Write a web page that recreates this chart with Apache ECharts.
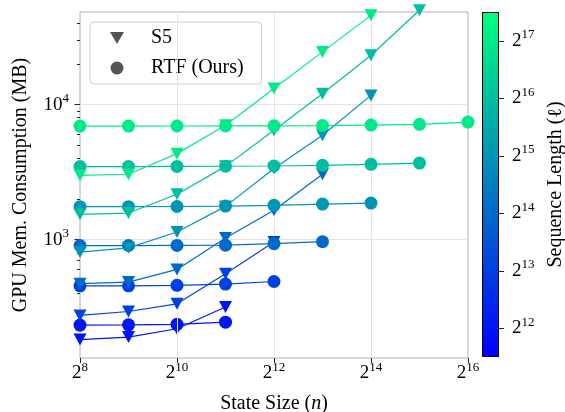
<!DOCTYPE html>
<html><head><meta charset="utf-8">
<script src="https://cdn.jsdelivr.net/npm/echarts@6/dist/echarts.min.js"></script>
<style>html,body{margin:0;padding:0;background:#fff}#c{width:565px;height:412px}</style>
</head><body><div id="c"></div>
<script>
// ---- data ----
const stateSizes = [256, 512, 1024, 2048, 4096, 8192, 16384, 32768, 65536];
const seqExponents = [12, 13, 14, 15, 16, 17];
const s5_len12 = [182, 190, 219, 317];
const s5_len13 = [275, 294, 335, 560, 960];
const s5_len14 = [472, 485, 602, 1030, 1650, 3050];
const s5_len15 = [809, 870, 1140, 1764, 3360, 5930, 11700];
const s5_len16 = [1540, 1575, 2167, 3490, 6450, 12050, 23180, 50000];
const s5_len17 = [2993, 3050, 4335, 7030, 13150, 24570, 45800];
const rtf_len12 = [233, 234, 236, 245];
const rtf_len13 = [455, 455, 459, 469, 490];
const rtf_len14 = [905, 905, 907, 910, 934, 966];
const rtf_len15 = [1755, 1755, 1760, 1774, 1795, 1836, 1866];
const rtf_len16 = [3475, 3480, 3485, 3495, 3510, 3550, 3612, 3690];
const rtf_len17 = [6935, 6940, 6945, 6950, 6965, 6990, 7060, 7150, 7430];
const xTickValues = [256, 1024, 4096, 16384, 65536];
const yTickValues = [1000, 10000];
const yMinorTickValues = [200, 300, 400, 500, 600, 700, 800, 900, 2000, 3000, 4000, 5000, 6000, 7000, 8000, 9000, 20000, 30000, 40000];
const yRange = [133, 48500];
const colorbarTicks = [12, 13, 14, 15, 16, 17];
const colorbarRange = [11.5, 17.5];

const s5Data = [s5_len12, s5_len13, s5_len14, s5_len15, s5_len16, s5_len17];
const rtfData = [rtf_len12, rtf_len13, rtf_len14, rtf_len15, rtf_len16, rtf_len17];

// ---- style ----
const FONT = 'Liberation Serif';
function winter(e) {
  const t = (e - colorbarRange[0]) / (colorbarRange[1] - colorbarRange[0]);
  return 'rgb(0,' + Math.round(255 * t) + ',' + Math.round(255 - 127.5 * t) + ')';
}
const supRich = {
  b: { fontFamily: FONT, fontSize: 19, color: '#000', verticalAlign: 'bottom', lineHeight: 19 },
  s: { fontFamily: FONT, fontSize: 13, color: '#000', verticalAlign: 'bottom', lineHeight: 13, padding: [0, 0, 9, 0] }
};
const toPairs = vals => vals.map((v, i) => [stateSizes[i], v]);

const series = [];
series.push({
  type: 'line', xAxisIndex: 0, yAxisIndex: 0, data: [], silent: true, z: 1,
  markLine: {
    silent: true, symbol: ['none', 'none'], label: { show: false }, animation: false,
    lineStyle: { color: '#e3e3e3', width: 1, type: 'solid' },
    emphasis: { disabled: true },
    data: xTickValues.slice(1, -1).map(v => ({ xAxis: v })).concat(yTickValues.map(v => ({ yAxis: v })))
  }
});
seqExponents.forEach((e, k) => {
  const c = winter(e);
  series.push({
    type: 'line', name: 'S5 2^' + e, xAxisIndex: 0, yAxisIndex: 0, clip: false,
    data: toPairs(s5Data[k]), symbol: 'triangle', symbolRotate: 180, symbolSize: [13, 12],
    itemStyle: { color: c }, lineStyle: { color: c, width: 1.2 }, z: 3 + 2 * k + 1
  });
  series.push({
    type: 'line', name: 'RTF 2^' + e, xAxisIndex: 0, yAxisIndex: 0, clip: false,
    data: toPairs(rtfData[k]), symbol: 'circle', symbolSize: 13,
    itemStyle: { color: c }, lineStyle: { color: c, width: 1.2 }, z: 3 + 2 * k
  });
});
series.push({ type: 'line', name: 'S5', data: [], itemStyle: { color: '#555' }, symbol: 'triangle' });
series.push({ type: 'line', name: 'RTF (Ours)', data: [], itemStyle: { color: '#555' }, symbol: 'circle' });
// colorbar
series.push({
  type: 'bar', xAxisIndex: 1, yAxisIndex: 2, stack: 'cb', barWidth: '100%', silent: true,
  data: [colorbarRange[0]], itemStyle: { color: 'rgba(0,0,0,0)' }
});
series.push({
  type: 'bar', xAxisIndex: 1, yAxisIndex: 2, stack: 'cb', barWidth: '100%', silent: true,
  data: [colorbarRange[1] - colorbarRange[0]],
  itemStyle: {
    color: new echarts.graphic.LinearGradient(0, 0, 0, 1, [
      { offset: 0, color: winter(colorbarRange[1]) }, { offset: 1, color: winter(colorbarRange[0]) }
    ]),
    borderColor: '#000', borderWidth: 1
  }
});

const chart = echarts.init(document.getElementById('c'), null, { renderer: 'canvas' });
chart.setOption({
  animation: false,
  backgroundColor: '#fff',
  grid: [
    { left: 80, right: 97, top: 12, bottom: 54, show: true, borderColor: '#b0b0b0', borderWidth: 1,
      backgroundColor: 'rgba(0,0,0,0)', containLabel: false, outerBoundsMode: 'none' },
    { left: 482, width: 17, top: 12, height: 345, containLabel: false, outerBoundsMode: 'none' }
  ],
  legend: {
    data: [{ name: 'S5', icon: 'path://M0,0L14,0L7,12Z' }, { name: 'RTF (Ours)', icon: 'circle' }],
    orient: 'vertical', left: 90, top: 22, itemWidth: 14, itemHeight: 13, itemGap: 10,
    padding: [6, 18, 6, 20], selectedMode: false,
    backgroundColor: 'rgba(255,255,255,0.85)', borderColor: '#cccccc', borderWidth: 1, borderRadius: 4,
    textStyle: { fontFamily: FONT, fontSize: 20, color: '#000', padding: [0, 0, 0, 22] }
  },
  xAxis: [
    {
      type: 'log', logBase: 2, gridIndex: 0, min: 256, max: 65536,
      axisLine: { show: false }, splitLine: { show: false }, minorTick: { show: false },
      axisTick: { show: true, inside: false, length: 5, customValues: xTickValues, lineStyle: { color: '#222' } },
      axisLabel: {
        customValues: xTickValues, margin: 6,
        formatter: v => '{b|2}{s|' + Math.round(Math.log2(v)) + '}', rich: supRich
      },
      name: 'State Size ({i|n})', nameLocation: 'middle', nameGap: 36,
      nameTextStyle: { fontFamily: FONT, fontSize: 20, color: '#000',
        rich: { i: { fontFamily: FONT, fontSize: 20, fontStyle: 'italic', color: '#000' } } }
    },
    { type: 'category', gridIndex: 1, data: ['cb'], show: false }
  ],
  yAxis: [
    {
      type: 'log', logBase: 10, gridIndex: 0, min: yRange[0], max: yRange[1], position: 'left',
      axisLine: { show: false }, splitLine: { show: false },
      axisTick: { show: true, inside: false, length: 5.5, customValues: yTickValues, lineStyle: { color: '#222' } },
      axisLabel: {
        customValues: yTickValues, margin: 11,
        formatter: v => '{b|10}{s|' + Math.round(Math.log10(v)) + '}', rich: supRich
      },
      name: 'GPU Mem. Consumption (MB)', nameLocation: 'middle', nameGap: 49,
      nameTextStyle: { fontFamily: FONT, fontSize: 20, color: '#000' }
    },
    {
      type: 'log', logBase: 10, gridIndex: 0, min: yRange[0], max: yRange[1], position: 'left', offset: 0,
      axisLine: { show: false }, splitLine: { show: false }, axisLabel: { show: false },
      axisTick: { show: true, inside: false, length: 3, customValues: yMinorTickValues, lineStyle: { color: '#222' } }
    },
    {
      type: 'value', gridIndex: 1, position: 'right', min: colorbarRange[0], max: colorbarRange[1],
      axisLine: { show: false }, splitLine: { show: false },
      axisTick: { show: true, inside: false, length: 5, customValues: colorbarTicks, lineStyle: { color: '#222' } },
      axisLabel: {
        customValues: colorbarTicks, margin: 13,
        formatter: v => '{b|2}{s|' + v + '}', rich: supRich
      },
      name: 'Sequence Length (ℓ)', nameLocation: 'middle', nameRotate: 90, nameGap: 47,
      nameTextStyle: { fontFamily: FONT, fontSize: 20, color: '#000' }
    }
  ],
  series: series
});
</script></body></html>
